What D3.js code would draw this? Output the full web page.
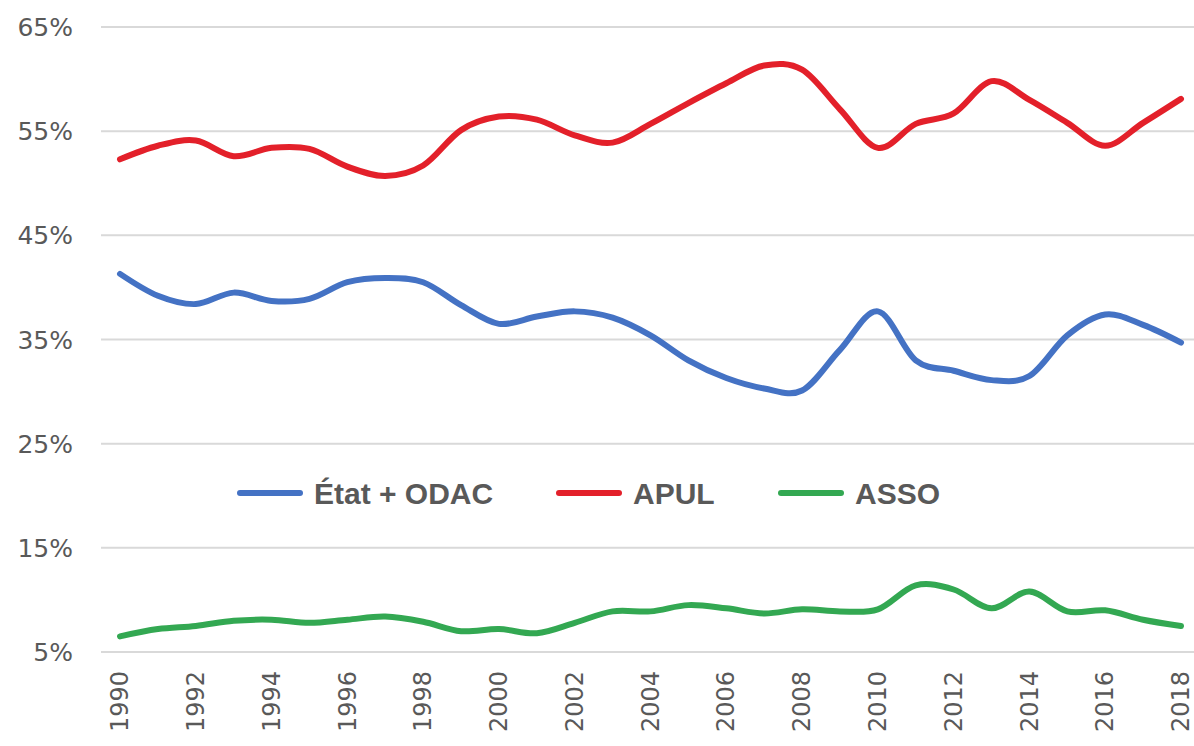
<!DOCTYPE html>
<html>
<head>
<meta charset="utf-8">
<script src="https://cdn.jsdelivr.net/npm/d3@7"></script>
<style>
    body { margin: 0; background: #ffffff; }
    .tick-label { font-family: "DejaVu Sans", sans-serif; font-size: 25px; fill: #595959; }
    .x-label { font-size: 24px; }
    .legend-label { font-family: "Liberation Sans", Arial, sans-serif; font-weight: bold; font-size: 30px; fill: #595959; }
</style>
</head>
<body>
<div id="chart"></div>
<script>
/* Shares of public spending: État + ODAC, APUL, ASSO, 1990-2018 */
const years = d3.range(1990, 2019);
const etat = [41.3, 39.2, 38.4, 39.5, 38.7, 38.9, 40.5, 40.9, 40.5, 38.3, 36.5, 37.2, 37.7, 37.1, 35.4,
              33.0, 31.3, 30.3, 30.1, 34.0, 37.7, 33.0, 32.0, 31.1, 31.5, 35.4, 37.4, 36.4, 34.7];
const apul = [52.3, 53.6, 54.1, 52.6, 53.4, 53.3, 51.6, 50.7, 51.7, 55.1, 56.4, 56.1, 54.6, 53.9, 55.7,
              57.7, 59.6, 61.3, 60.9, 57.1, 53.4, 55.7, 56.7, 59.8, 58.0, 55.8, 53.6, 55.8, 58.1];
const asso = [6.5, 7.2, 7.5, 8.0, 8.1, 7.8, 8.1, 8.4, 7.9, 7.0, 7.2, 6.8, 7.8, 8.9, 8.9,
              9.5, 9.2, 8.7, 9.1, 8.9, 9.1, 11.4, 11.0, 9.2, 10.8, 8.9, 9.0, 8.1, 7.5];
const yTicks = [5, 15, 25, 35, 45, 55, 65];
const xTicks = d3.range(1990, 2019, 2);

const seriesNames = ["État + ODAC", "APUL", "ASSO"];
const seriesColors = ["#4472C4", "#E3202A", "#33A852"];
const seriesValues = [etat, apul, asso];

const width = 1194;
const height = 746;
const margin = {top: 27, right: 13, bottom: 94, left: 120};

const svg = d3.select("#chart")
    .append("svg")
    .attr("width", width)
    .attr("height", height);

const x = d3.scaleLinear()
    .domain([1990, 2018])
    .range([margin.left, width - margin.right]);

const y = d3.scaleLinear()
    .domain([5, 65])
    .range([height - margin.bottom, margin.top]);

// Horizontal gridlines
svg.append("g")
    .selectAll("line")
    .data(yTicks)
    .enter()
    .append("line")
    .attr("x1", 101)
    .attr("x2", width)
    .attr("y1", d => y(d))
    .attr("y2", d => y(d))
    .attr("stroke", "#d9d9d9")
    .attr("stroke-width", 2);

// Y axis labels
svg.append("g")
    .selectAll("text")
    .data(yTicks)
    .enter()
    .append("text")
    .text(d => d + "%")
    .classed("tick-label", true)
    .attr("x", 73)
    .attr("y", d => y(d))
    .attr("dy", "0.36em")
    .style("text-anchor", "end");

// X axis labels, rotated
svg.append("g")
    .selectAll("text")
    .data(xTicks)
    .enter()
    .append("text")
    .text(d => d)
    .classed("tick-label", true)
    .classed("x-label", true)
    .attr("transform", d => `translate(${x(d)}, ${height - margin.bottom + 19}) rotate(-90)`)
    .attr("dy", "0.34em")
    .style("text-anchor", "end");

// Smoothed lines, like Excel's
const line = d3.line()
    .x((d, i) => x(years[i]))
    .y(d => y(d))
    .curve(d3.curveCatmullRom.alpha(0));

svg.append("g")
    .selectAll("path")
    .data(seriesValues)
    .enter()
    .append("path")
    .attr("d", d => line(d))
    .attr("fill", "none")
    .attr("stroke", (d, i) => seriesColors[i])
    .attr("stroke-width", 6)
    .attr("stroke-linecap", "round")
    .attr("stroke-linejoin", "round");

// Legend in the middle of the plot
const legendX = [240, 559, 781];
const legendY = 493;
const legend = svg.append("g")
    .selectAll("g")
    .data(seriesNames)
    .enter()
    .append("g")
    .attr("transform", (d, i) => `translate(${legendX[i]}, ${legendY})`);

legend.append("line")
    .attr("x1", 0)
    .attr("x2", 60)
    .attr("stroke", (d, i) => seriesColors[i])
    .attr("stroke-width", 6)
    .attr("stroke-linecap", "round");

legend.append("text")
    .text(d => d)
    .classed("legend-label", true)
    .attr("x", 74)
    .attr("dy", "0.36em");
</script>
</body>
</html>
